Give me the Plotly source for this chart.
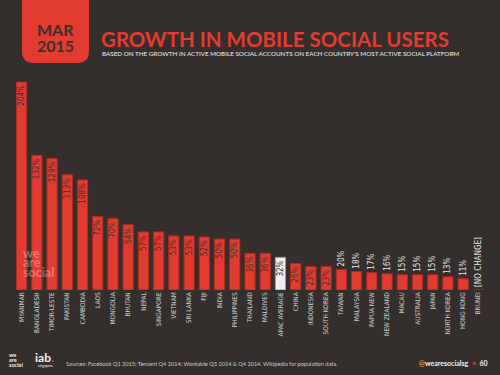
import plotly.graph_objects as go

countries = ["MYANMAR", "BANGLADESH", "TIMOR-LESTE", "PAKISTAN", "CAMBODIA", "LAOS", "MONGOLIA",
             "BHUTAN", "NEPAL", "SINGAPORE", "VIETNAM", "SRI LANKA", "FIJI", "INDIA", "PHILIPPINES",
             "THAILAND", "MALDIVES", "APAC AVERAGE", "CHINA", "INDONESIA", "SOUTH KOREA", "TAIWAN",
             "MALAYSIA", "PAPUA NEW", "NEW ZEALAND", "MACAU", "AUSTRALIA", "JAPAN", "NORTH KOREA",
             "HONG KONG", "BRUNEI"]
growth = [204, 132, 129, 113, 108, 72, 70, 64, 57, 57, 53, 53, 52, 50, 50, 36, 36, 32, 26, 23, 23,
          20, 18, 17, 16, 15, 15, 15, 13, 11, 0]
labels = [f"{v}%" for v in growth[:-1]] + ["[NO CHANGE]"]

BG = "#342f2d"
RED = "#e23c30"
DARK = "#3a302d"
COND = "Liberation Sans Narrow, DejaVu Sans Condensed, Roboto, sans-serif"

colors = ["#eeeeee" if c == "APAC AVERAGE" else RED for c in countries]
line_colors = ["#9a9a9a" if c == "APAC AVERAGE" else "#b3291f" for c in countries]
positions = ["inside" if v >= 23 else "outside" for v in growth]

fig = go.Figure(go.Bar(
    x=countries, y=growth, text=labels, textposition=positions, textangle=-90,
    insidetextanchor="end", constraintext="none", cliponaxis=False,
    textfont=dict(family=COND, size=8),
    insidetextfont=dict(family=COND, size=8, color=DARK),
    outsidetextfont=dict(family=COND, size=8, color="#e8e8e8"),
    marker=dict(color=colors, line=dict(color=line_colors, width=1)),
    hoverinfo="skip",
))

fig.update_layout(
    width=500, height=375, paper_bgcolor=BG, plot_bgcolor=BG,
    margin=dict(l=14, r=14, t=70, b=85),
    bargap=0.33, showlegend=False,
    xaxis=dict(tickangle=-90, showgrid=False, zeroline=False, showline=False, ticks="",
               automargin=False,
               tickfont=dict(family=COND, size=6.5, color="#d0d0d0"),
               range=[-0.5, 30.5]),
    yaxis=dict(visible=False, range=[0, 215.8], automargin=False),
)

def px(x):
    return (x - 14) / (500 - 28)
def py(y):
    return (290 - y) / 220

# header tab with rounded bottom corners (paper coords)
pts = dict(L=px(22), R=px(89), T=py(-2), B=py(63), Bi=py(51), Li=px(34), Ri=px(77))
tab_path = (f"M {pts['L']} {pts['T']} L {pts['R']} {pts['T']} L {pts['R']} {pts['Bi']} "
            f"Q {pts['R']} {pts['B']} {pts['Ri']} {pts['B']} L {pts['Li']} {pts['B']} "
            f"Q {pts['L']} {pts['B']} {pts['L']} {pts['Bi']} Z")
fig.add_shape(type="path", xref="paper", yref="paper", path=tab_path,
              fillcolor=RED, line=dict(width=0), layer="above")

ann = []
def A(text, x, y, size, color, family="Lato, sans-serif", xanchor="left", yanchor="middle", **kw):
    ann.append(dict(text=text, x=px(x), y=py(y), xref="paper", yref="paper", showarrow=False,
                    font=dict(size=size, color=color, family=family), xanchor=xanchor, yanchor=yanchor, **kw))

A("<b>MAR</b>", 55.5, 30, 16, DARK, xanchor="center")
A("<b>2015</b>", 55.5, 45, 16, DARK, xanchor="center")
A("<b>GROWTH IN MOBILE SOCIAL USERS</b>", 99, 39, 20.5, RED)
A("BASED ON THE GROWTH IN ACTIVE MOBILE SOCIAL ACCOUNTS ON EACH COUNTRY'S MOST ACTIVE SOCIAL PLATFORM",
  100, 54, 6.3, "#f0f0f0")
# watermark
for t, y in [("we", 253), ("are", 262), ("social", 272)]:
    A(f"<b>{t}</b>", 21, y, 12.5, "rgba(255,255,255,0.33)")
# footer logo
for t, y in [("we", 355), ("are", 360), ("social", 365)]:
    A(f"<b>{t}</b>", 7, y, 5.5, "#f0f0f0")
A("<b>iab</b><span style='color:#e23c30'><b>.</b></span>", 33, 357, 12, "#f0f0f0")
A("singapore", 36, 366, 3.5, "#f0f0f0")
A("Sources: Facebook Q1 2015; Tencent Q4 2014; Wontakte Q3 2014 & Q4 2014. Wikipedia for population data.",
  64, 363, 5.6, "#c8c8c8")
A("<span style='color:#e09a30'><b>@</b></span><b>wearesocialsg</b>  <span style='color:#e23c30'>•</span>  <b>60</b>",
  490, 363, 7, "#f0f0f0", xanchor="right")
fig.update_layout(annotations=ann)

fig.write_html("out.html", config={"displayModeBar": False},
               post_script="document.body.style.margin='0';document.body.style.background='#342f2d';")
